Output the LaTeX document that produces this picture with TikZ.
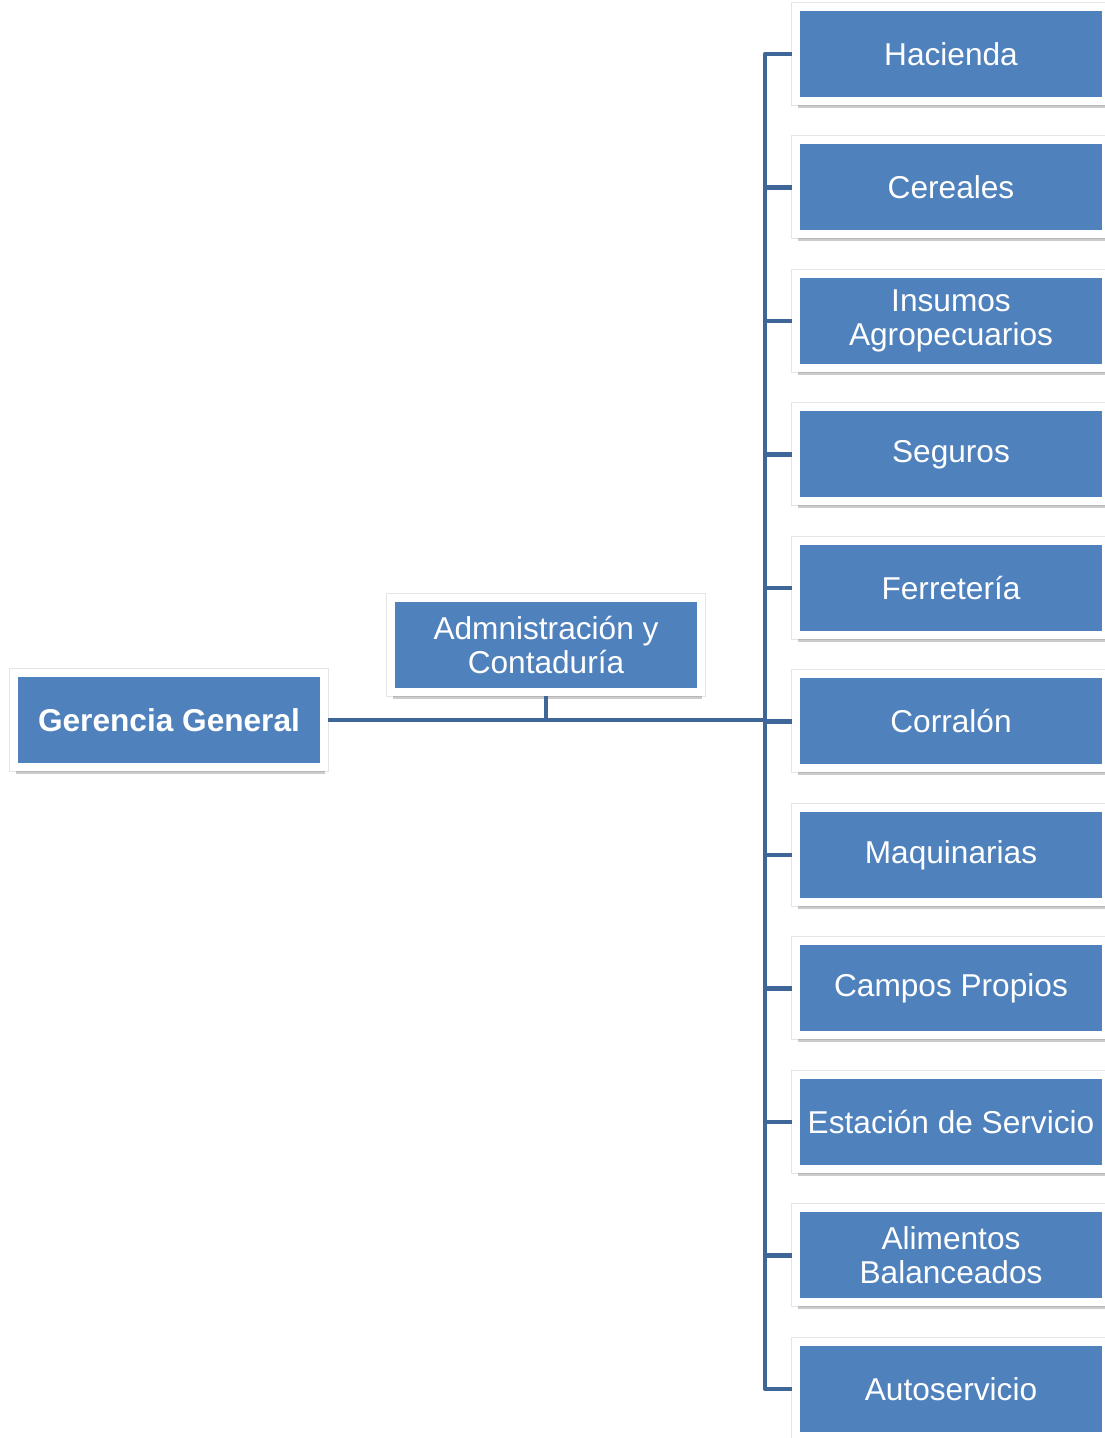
\documentclass[tikz,border=0pt]{standalone}
\usepackage{fontspec}
\setmainfont{Liberation Sans}
\usetikzlibrary{positioning,shadows}

\definecolor{boxblue}{HTML}{4F81BD}
\definecolor{lineblue}{HTML}{3E6698}

\begin{document}
\begin{tikzpicture}[x=0.02cm, y=-0.02cm, node distance=0.63cm,
        box/.style={rectangle, draw=white, line width=0.16cm, fill=boxblue, text=white, align=center,
            inner sep=0pt, minimum width=6.2cm, minimum height=1.88cm,
            font=\fontsize{18}{19}\selectfont,
            preaction={draw=black!10, line width=0.2cm},
            drop shadow={shadow xshift=0.03cm, shadow yshift=-0.14cm, fill=black, opacity=0.2}},
        conn/.style={draw=lineblue, line width=0.09cm, line join=round}]
        \useasboundingbox (0,0) rectangle (1105,1438);

        \node[box] (gerencia) at (169,720) {\textbf{Gerencia General}};
        \node[box] (admin) at (546,645) {Admnistración y\\Contaduría};

        \node[box] (hacienda) at (951,54) {Hacienda};
        \node[box, below=of hacienda] (cereales) {Cereales};
        \node[box, below=of cereales] (insumos) {Insumos\\Agropecuarios};
        \node[box, below=of insumos] (seguros) {Seguros};
        \node[box, below=of seguros] (ferreteria) {Ferretería};
        \node[box, below=of ferreteria] (corralon) {Corralón};
        \node[box, below=of corralon] (maquinarias) {Maquinarias};
        \node[box, below=of maquinarias] (campos) {Campos Propios};
        \node[box, below=of campos] (estacion) {Estación de Servicio};
        \node[box, below=of estacion] (alimentos) {Alimentos\\Balanceados};
        \node[box, below=of alimentos] (autoservicio) {Autoservicio};

        \coordinate (spine) at (765,720);

        \draw[conn] (gerencia.east) -- (spine);
        \draw[conn] (admin.south) -- (admin.south |- spine);
        \draw[conn] (hacienda.west) -| (spine) |- (autoservicio.west);
        \foreach \dept in {cereales,insumos,seguros,ferreteria,corralon,maquinarias,campos,estacion,alimentos}
            \draw[conn] (\dept.west) -- (\dept.west -| spine);
    \end{tikzpicture}
\end{document}
